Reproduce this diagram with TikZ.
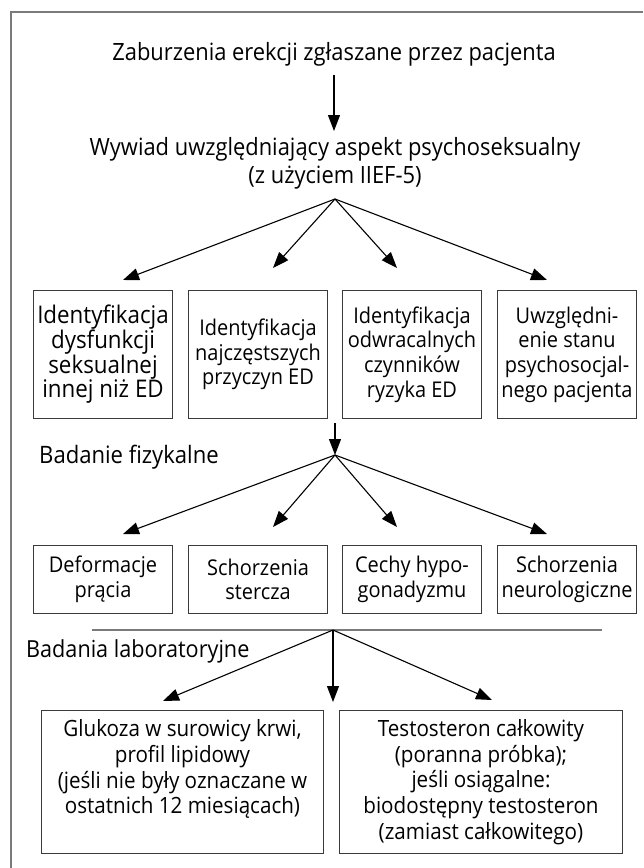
\documentclass[tikz,border=0pt]{standalone}
\usepackage{fontspec}
\setmainfont[FakeStretch=0.92]{Open Sans}
\usetikzlibrary{arrows.meta}
\definecolor{framegray}{HTML}{7A7A7A}
\definecolor{boxline}{HTML}{3A3A3A}
\begin{document}
\begin{tikzpicture}[x=1pt,y=-1pt,
  arr/.style={-{Triangle[length=16pt,width=12pt]},line width=1.1pt,black},
  fan/.style={-{Triangle[length=16pt,width=12pt]},line width=1.1pt,black},
  rbox/.style={draw=boxline,line width=1pt,inner sep=0pt,anchor=north west,align=center,
    minimum width=139pt,minimum height=128pt,font=\fontsize{21.7}{24.7}\selectfont},
  sbox/.style={draw=boxline,line width=1pt,inner sep=0pt,anchor=north west,align=center,
    minimum width=139pt,minimum height=68pt,font=\fontsize{21.7}{24.7}\selectfont},
  lbox/.style={draw=boxline,line width=1pt,inner sep=0pt,anchor=north west,
    minimum width=282pt,minimum height=143pt},
  plain/.style={inner sep=0pt,align=center},
]
\useasboundingbox (0,0) rectangle (643,868);
% frame
\draw[framegray,line width=1.3pt] (11,868) -- (11,12) -- (643,12);

% title and history
\node[plain,anchor=base,font=\fontsize{23.8}{28}\selectfont] (title) at (334,60) {Zaburzenia erekcji zgłaszane przez pacjenta};
\node[plain,anchor=base,font=\fontsize{23.8}{28}\selectfont] (hist) at (335,183)
  {Wywiad uwzględniający aspekt psychoseksualny\\(z użyciem IIEF-5)};
\coordinate (ta) at (334,75);
\coordinate (tb) at (334,131);
\draw[arr] (ta) -- (tb);

% fan 1
\coordinate (a1) at (335,199);
\coordinate (p1) at (123,280);
\coordinate (p2) at (273,268);
\coordinate (p3) at (397,268);
\coordinate (p4) at (547,280);
\foreach \t in {p1,p2,p3,p4} \draw[fan] (a1) -- (\t);

% row 1 boxes
\node[rbox,font=\fontsize{24.3}{24.7}\selectfont] (b1) at (33,290) {Identyfikacja\\dysfunkcji\\seksualnej\\innej niż ED};
\node[rbox] (b2) at (188,290) {Identyfikacja\\najczęstszych\\przyczyn ED};
\node[rbox] (b3) at (342,290) {Identyfikacja\\odwracalnych\\czynników\\ryzyka ED};
\node[rbox] (b4) at (497,290) {Uwzględni-\\enie stanu\\psychosocjal-\\nego pacjenta};

% arrow to physical exam
\coordinate (c1) at (335,423);
\coordinate (a2) at (335,455);
\draw[arr] (c1) -- (a2);
\node[plain,anchor=base west,font=\fontsize{24}{28}\selectfont] (fiz) at (39,463) {Badanie fizykalne};

% fan 2
\coordinate (q1) at (123,534);
\coordinate (q2) at (273,527);
\coordinate (q3) at (397,527);
\coordinate (q4) at (547,534);
\foreach \t in {q1,q2,q3,q4} \draw[fan] (a2) -- (\t);

% row 2 boxes
\node[sbox] (d1) at (33,545) {Deformacje\\prącia};
\node[sbox] (d2) at (188,545) {Schorzenia\\stercza};
\node[sbox] (d3) at (342,545) {Cechy hypo-\\gonadyzmu};
\node[sbox] (d4) at (497,545) {Schorzenia\\neurologiczne};

% separator line
\coordinate (h1) at (92,630);
\coordinate (h2) at (602,630);
\draw[framegray,line width=1.3pt] (h1) -- (h2);
\node[plain,anchor=base west,font=\fontsize{23.5}{28}\selectfont] (lab) at (26,657) {Badania laboratoryjne};

% fan 3
\coordinate (a3) at (333,630);
\coordinate (r1) at (163,701);
\coordinate (r2) at (333,702);
\coordinate (r3) at (492,700);
\foreach \t in {r1,r2,r3} \draw[fan] (a3) -- (\t);

% row 3 boxes
\node[lbox] (e1) at (41,710) {};
\node[lbox,minimum width=283pt] (e2) at (339,710) {};
\node[plain,font=\fontsize{22.4}{25.7}\selectfont] (e1t) at ([yshift=12.8pt]e1.center)
  {Glukoza w surowicy krwi,\\profil lipidowy\\(jeśli nie były oznaczane w\\ostatnich 12 miesiącach)};
\node[plain,font=\fontsize{22.4}{25.7}\selectfont] (e2t) at (e2.center)
  {Testosteron całkowity\\(poranna próbka);\\jeśli osiągalne:\\biodostępny testosteron\\(zamiast całkowitego)};
\end{tikzpicture}
\end{document}
